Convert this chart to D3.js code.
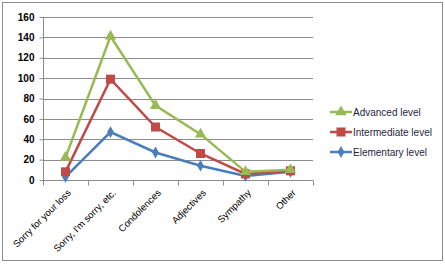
<!DOCTYPE html>
<html>
<head>
<meta charset="utf-8">
<script src="https://cdn.jsdelivr.net/npm/d3@7"></script>
<style>
  body { margin: 0; background: #fff; }
  svg { font-family: "Liberation Sans", "DejaVu Sans", sans-serif; }
</style>
</head>
<body>
<svg width="445" height="264"></svg>
<script>
const categories = ["Sorry for your loss", "Sorry, I'm sorry, etc.", "Condolences", "Adjectives", "Sympathy", "Other"];
const advanced = [22, 141, 73, 45, 8, 10];
const intermediate = [8, 99, 52, 26, 6, 9];
const elementary = [3, 47, 27, 14, 4, 8];
const yTicks = [0, 20, 40, 60, 80, 100, 120, 140, 160];

const series = [
  { name: "Advanced level", values: advanced, color: "#98B954", shape: "tri" },
  { name: "Intermediate level", values: intermediate, color: "#BE4B48", shape: "sq" },
  { name: "Elementary level", values: elementary, color: "#4A7EBB", shape: "dia" }
];

const svg = d3.select("svg");
const margin = { left: 43, top: 17, right: 132, bottom: 84 };
const width = 445 - margin.left - margin.right,
      height = 264 - margin.top - margin.bottom;

svg.append("rect")
  .attr("x", 2.5).attr("y", 2.5).attr("width", 440).attr("height", 258)
  .attr("fill", "#fff").attr("stroke", "#8c8c8c");

const g = svg.append("g").attr("transform", `translate(${margin.left},${margin.top})`);

const x = d3.scaleBand().domain(categories).range([0, width]);
const y = d3.scaleLinear().domain([0, 160]).range([height, 0]);

// gridlines
g.selectAll(".grid").data(yTicks.slice(1)).enter().append("line")
  .attr("x1", 0).attr("x2", width)
  .attr("y1", d => Math.round(y(d)) + 0.5).attr("y2", d => Math.round(y(d)) + 0.5)
  .attr("stroke", "#8c8c8c");

// y axis
const yAxis = g.append("g").attr("transform", "translate(0.5,0)")
  .call(d3.axisLeft(y).tickValues(yTicks).tickSize(4).tickPadding(5));
yAxis.selectAll("text").attr("font-size", 10).attr("font-weight", "bold").attr("fill", "#000");
yAxis.selectAll("line, path").attr("stroke", "#8c8c8c");
yAxis.select("path").attr("d", `M0,0V${height}`);

// x axis
const xg = g.append("g").attr("transform", `translate(0,${Math.round(height) + 0.5})`);
xg.append("line").attr("x1", 0).attr("x2", width).attr("stroke", "#8c8c8c");
xg.selectAll(".tk").data(categories.concat([null])).enter().append("line")
  .attr("x1", (d, i) => Math.round(i * x.bandwidth()) + 0.5)
  .attr("x2", (d, i) => Math.round(i * x.bandwidth()) + 0.5)
  .attr("y1", 0).attr("y2", 5).attr("stroke", "#8c8c8c");
xg.selectAll(".lbl").data(categories).enter().append("text")
  .attr("transform", d => `translate(${x(d) + x.bandwidth() / 2 + 6},${13}) rotate(-45)`)
  .attr("text-anchor", "end")
  .attr("font-size", 9.5)
  .attr("fill", "#000")
  .text(d => d);

const cx = d => x(d) + x.bandwidth() / 2;
const line = d3.line().x((v, i) => cx(categories[i])).y(v => y(v));

function marker(sel, shape, color, px, py) {
  if (shape === "tri") {
    sel.append("path").attr("d", d3.symbol(d3.symbolTriangle, 55)())
      .attr("transform", `translate(${px},${py})`).attr("fill", color);
  } else if (shape === "sq") {
    sel.append("rect").attr("x", px - 4.5).attr("y", py - 4.5).attr("width", 9).attr("height", 9).attr("fill", color);
  } else {
    sel.append("path").attr("d", d3.symbol(d3.symbolDiamond, 40)())
      .attr("transform", `translate(${px},${py})`).attr("fill", color);
  }
}

// draw elementary first so advanced sits on top
series.slice().reverse().forEach(s => {
  g.append("path").datum(s.values)
    .attr("d", line).attr("fill", "none").attr("stroke", s.color).attr("stroke-width", 2.5);
  s.values.forEach((v, i) => marker(g, s.shape, s.color, cx(categories[i]), y(v)));
});

// legend
const legend = svg.append("g").attr("transform", "translate(330,112)");
series.forEach((s, i) => {
  const row = legend.append("g").attr("transform", `translate(0,${i * 20})`);
  row.append("line").attr("x1", 0).attr("x2", 22).attr("stroke", s.color).attr("stroke-width", 2.5);
  marker(row, s.shape, s.color, 11, 0);
  row.append("text").attr("x", 23).attr("y", 0).attr("dy", "0.35em")
    .attr("font-size", 10).attr("fill", "#1f1f3f").text(s.name);
});
</script>
</body>
</html>
